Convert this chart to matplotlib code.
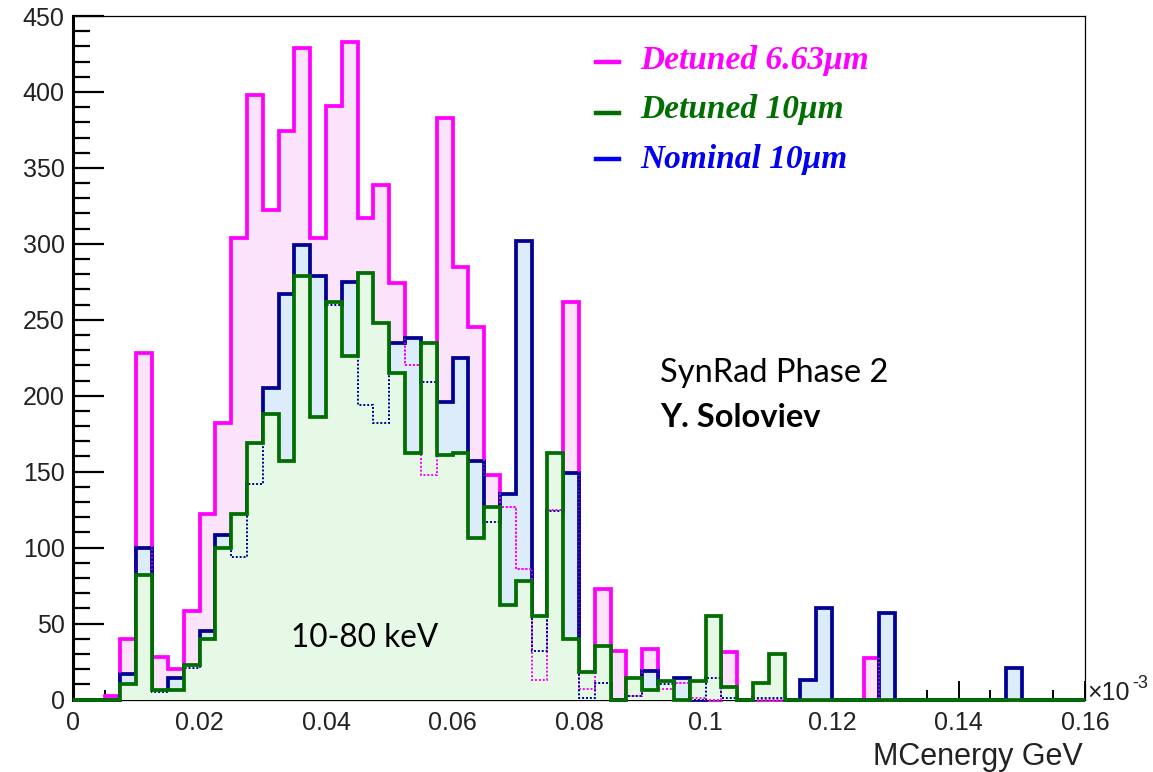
import numpy as np
import matplotlib.pyplot as plt
from matplotlib.lines import Line2D

# 64 bins of 2.5 keV between 0 and 0.16 (x1e-3 GeV)
edges = np.linspace(0, 0.16, 65)

detuned_663 = [0, 0, 2, 40, 228, 28, 20, 58, 122, 182, 304, 398, 322, 374, 429, 304,
               391, 433, 317, 339, 274, 220, 148, 383, 285, 245, 148, 127, 86, 13, 125, 262,
               7, 73, 32, 2, 33, 7, 11, 1, 0, 31, 0, 0, 0, 0, 0, 0,
               0, 0, 27, 0, 0, 0, 0, 0, 0, 0, 0, 0, 0, 0, 0, 0]
nominal_10 = [0, 0, 0, 17, 100, 5, 14, 21, 45, 108, 94, 142, 205, 267, 299, 279,
              260, 275, 194, 182, 235, 238, 209, 196, 225, 157, 117, 135, 302, 32, 124, 149,
              1, 11, 0, 2, 19, 10, 14, 0, 14, 1, 0, 1, 1, 0, 13, 60,
              0, 0, 0, 57, 0, 0, 0, 0, 0, 0, 0, 21, 0, 0, 0, 0]
detuned_10 = [0, 0, 0, 10, 82, 6, 6, 23, 40, 100, 122, 169, 188, 157, 279, 186,
              262, 226, 281, 248, 215, 162, 235, 161, 162, 106, 127, 62, 78, 55, 162, 40,
              18, 35, 0, 14, 6, 12, 0, 12, 55, 8, 0, 11, 30, 0, 0, 0,
              0, 0, 0, 0, 0, 0, 0, 0, 0, 0, 0, 0, 0, 0, 0, 0]

xticks = [0, 0.02, 0.04, 0.06, 0.08, 0.1, 0.12, 0.14, 0.16]
xlabels = ["0", "0.02", "0.04", "0.06", "0.08", "0.1", "0.12", "0.14", "0.16"]
yticks = list(range(0, 451, 50))

legend_names = ["Detuned 6.63\u03bcm", "Detuned 10\u03bcm", "Nominal 10\u03bcm"]

MAG = "#ff00ff"
GRN = "#006e00"
BLU = "#000094"

W, H = 1153, 772
fig = plt.figure(figsize=(W / 100, H / 100), dpi=100)
ax = fig.add_axes([73 / W, 1 - 699.5 / H, (1085 - 73) / W, (699.5 - 16) / H])


def fx(x):
    return x / W


def fy(y):
    return 1 - y / H


lw = 2.7
dot = dict(linestyle=(0, (1, 1)), linewidth=1.4, clip_on=False)

# magenta
ax.stairs(detuned_663, edges, fill=True, color="#fbe3fb", lw=0, zorder=1)
ax.stairs(detuned_663, edges, color=MAG, lw=lw, zorder=2, clip_on=False)
# blue
ax.stairs(nominal_10, edges, fill=True, color="#dcecfb", lw=0, zorder=3)
ax.stairs(detuned_663, edges, color=MAG, zorder=4, **dot)
ax.stairs(nominal_10, edges, color=BLU, lw=lw, zorder=5, clip_on=False)
# green
ax.stairs(detuned_10, edges, fill=True, color="#e6f8e6", lw=0, zorder=6)
ax.stairs(detuned_663, edges, color=MAG, zorder=7, **dot)
ax.stairs(nominal_10, edges, color=BLU, zorder=7, **dot)
ax.stairs(detuned_10, edges, color=GRN, lw=lw, zorder=8, clip_on=False)

ax.set_xlim(0, 0.16)
ax.set_ylim(0, 450)
ax.set_axisbelow(True)

ax.set_xticks(xticks)
ax.set_xticklabels(xlabels)
ax.set_xticks(np.arange(0, 0.1601, 0.005), minor=True)
ax.set_yticks(yticks)
ax.set_yticks(range(0, 451, 10), minor=True)

for lab in ax.get_xticklabels() + ax.get_yticklabels():
    lab.set_fontfamily("Liberation Sans")
    lab.set_fontsize(18)
    lab.set_color("#222222")

ax.tick_params(axis="y", which="major", direction="in", length=22, width=1.6, pad=6)
ax.tick_params(axis="y", which="minor", direction="in", length=12, width=1.6)
ax.tick_params(axis="x", which="major", direction="in", length=14, width=1.4, pad=8)
ax.tick_params(axis="x", which="minor", direction="in", length=7, width=1.4)
ax.tick_params(top=False, right=False, which="both")

ax.spines["left"].set_linewidth(2.2)
for s in ["top", "right", "bottom"]:
    ax.spines[s].set_linewidth(0.9)

# axis exponent and title
fig.text(fx(1087), fy(700), "\u00d710", fontfamily="Liberation Sans", fontsize=18,
         color="#222222", va="baseline", ha="left")
fig.text(fx(1132), fy(688), "-3", fontfamily="Liberation Sans", fontsize=13,
         color="#222222", va="baseline", ha="left")
fig.text(fx(1083), fy(765), "MCenergy GeV", fontfamily="Liberation Sans", fontsize=22,
         color="#222222", va="baseline", ha="right")

# legend
leg_rows = [(69, 62, MAG, MAG), (118, 113, GRN, GRN), (168, 159, "#0000ff", "#0000ee")]
for name, (base, dash_y, dash_c, txt_c) in zip(legend_names, leg_rows):
    fig.add_artist(Line2D([fx(596), fx(619)], [fy(dash_y), fy(dash_y)],
                          color=dash_c, lw=3.2, transform=fig.transFigure))
    fig.text(fx(640), fy(base), name, fontfamily="Liberation Serif", fontweight="bold",
             fontstyle="italic", fontsize=24, color=txt_c, va="baseline", ha="left")

# annotations
fig.text(fx(291), fy(647), "10-80 keV", fontfamily="Lato", fontsize=22.7,
         color="black", va="baseline", ha="left", zorder=20)
fig.text(fx(660), fy(382), "SynRad Phase 2", fontfamily="Lato", fontsize=23.5,
         color="black", va="baseline", ha="left")
fig.text(fx(660), fy(427), "Y. Soloviev", fontfamily="Lato", fontweight="bold",
         fontsize=23.5, color="black", va="baseline", ha="left")

fig.savefig("out.png", dpi=100)
